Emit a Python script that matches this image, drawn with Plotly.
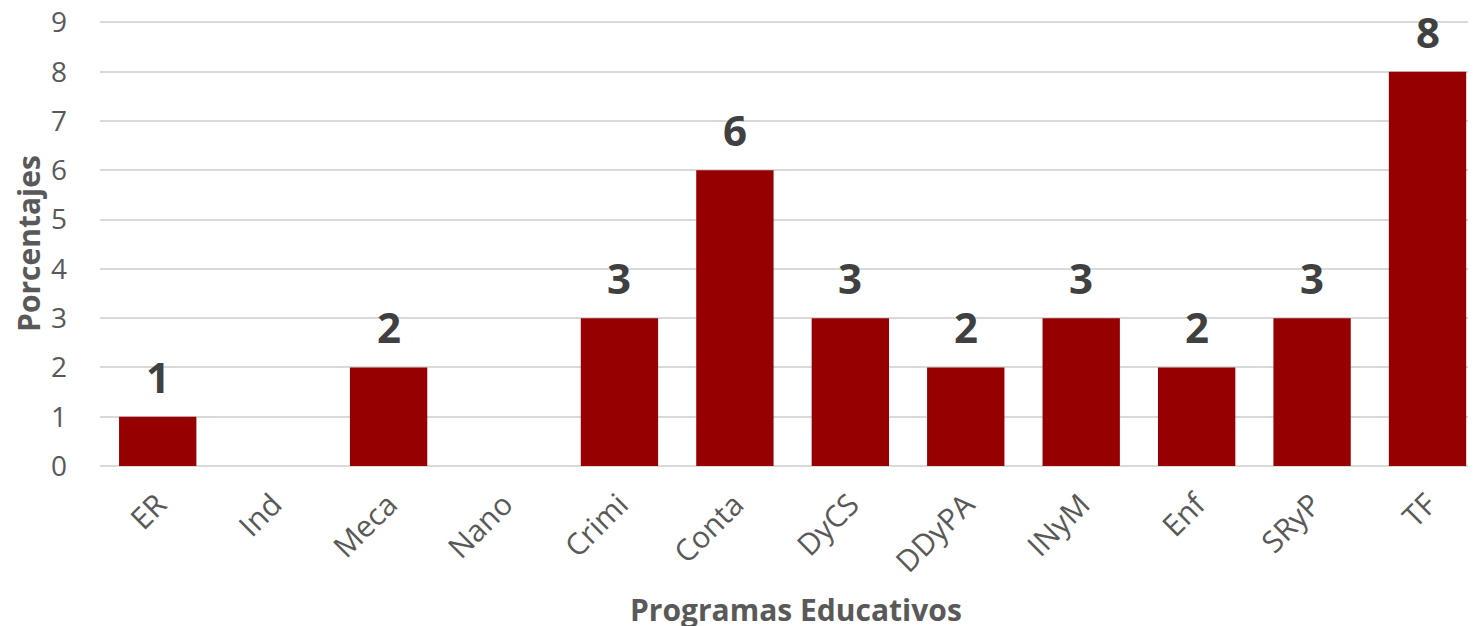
import plotly.graph_objects as go

categories = ["ER", "Ind", "Meca", "Nano", "Crimi", "Conta", "DyCS", "DDyPA", "INyM", "Enf", "SRyP", "TF"]
values = [1, 0, 2, 0, 3, 6, 3, 2, 3, 2, 3, 8]
y_ticks = list(range(0, 10))
x_title = "Programas Educativos"
y_title = "Porcentajes"

fig = go.Figure(go.Bar(
    x=categories, y=values,
    marker=dict(color="#960000", line=dict(width=0)),
    cliponaxis=False, width=0.67, hoverinfo="x+y",
))

for c, v in zip(categories, values):
    if v:
        fig.add_annotation(
            x=c, y=v, text=f"<b>{v}</b>", showarrow=False,
            yanchor="bottom", yshift=10,
            font=dict(family="Open Sans", size=42, color="#404040"),
        )

fig.add_annotation(
    xref="paper", yref="paper", x=0.506, y=-0.323, text=f"<b>{x_title}</b>",
    showarrow=False, xanchor="center", yanchor="middle",
    font=dict(family="Open Sans", size=30, color="#595959"),
)

fig.update_layout(
    width=1476, height=626,
    margin=dict(l=92, r=8, t=13, b=168),
    plot_bgcolor="white", paper_bgcolor="white",
    showlegend=False,
    font=dict(family="Open Sans", color="#595959"),
    xaxis=dict(
        range=[-0.5, 11.42], tickangle=-45, tickfont=dict(size=30, color="#595959"),
        showgrid=False, zeroline=False, showline=False, ticks="", automargin=False,
        ticklabelstandoff=14,
    ),
    yaxis=dict(
        range=[0, 9.03], tickvals=y_ticks, tickfont=dict(size=28, color="#595959"),
        showgrid=True, gridcolor="#d9d9d9", gridwidth=1.5,
        zeroline=True, zerolinecolor="#d9d9d9", zerolinewidth=1.5,
        ticks="", ticklabelstandoff=32, automargin=False, ticklabeloverflow="allow",
        title=dict(text=f"<b>{y_title}</b>", font=dict(size=30, color="#595959"), standoff=18),
    ),
)

fig.write_html("out.html")
